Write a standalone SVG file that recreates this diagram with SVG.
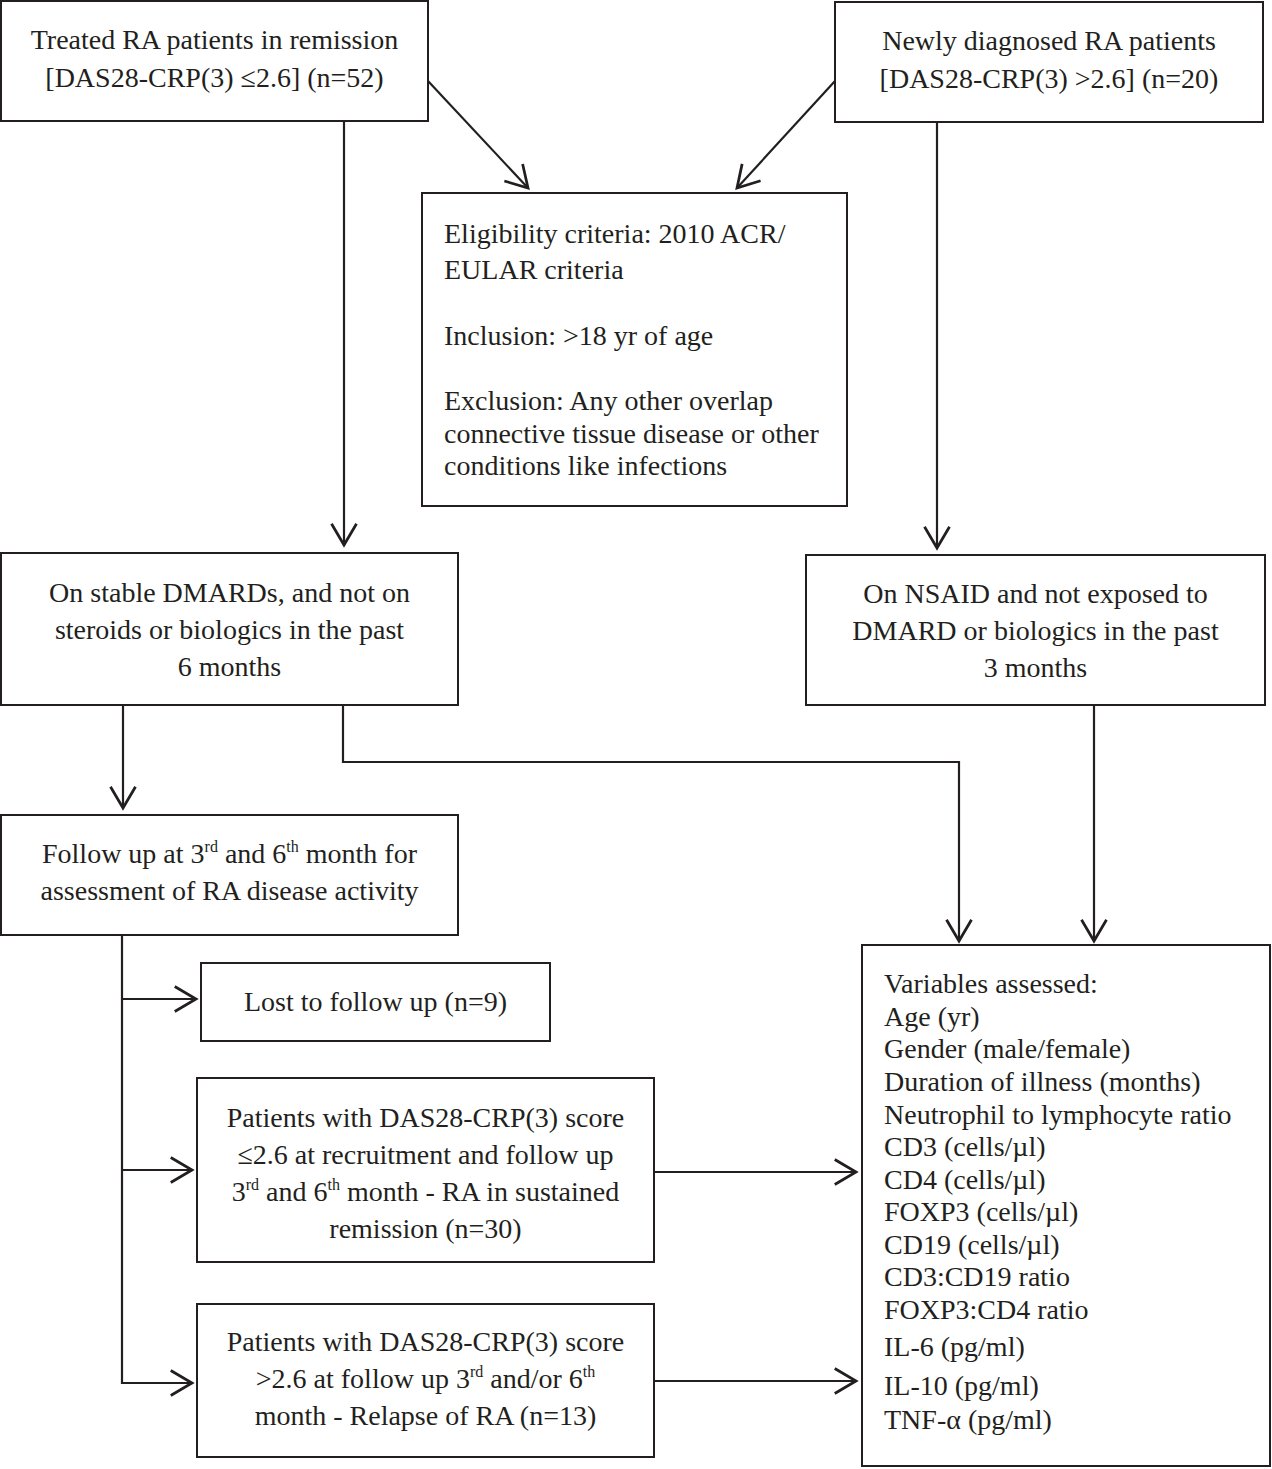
<svg xmlns="http://www.w3.org/2000/svg" width="1272" height="1469" viewBox="0 0 1272 1469">
<style>
.box{fill:#fff;stroke:#231f20;stroke-width:2}
.t{font-family:"Liberation Serif","Times New Roman",serif;font-size:28px;fill:#231f20}
.c{text-anchor:middle}
.ln{fill:none;stroke:#231f20;stroke-width:2.2}
.sup{font-size:16px}
</style>
<defs>
<marker id="ah" markerUnits="userSpaceOnUse" markerWidth="30" markerHeight="30" viewBox="-20 -12 22 24" refX="0" refY="0" orient="auto">
<path d="M-17,-10 L0,0 L-17,10" fill="none" stroke="#231f20" stroke-width="2.2"/>
</marker>
</defs>
<rect width="1272" height="1469" fill="#fff"/>
<g id="connectors">
<line class="ln" x1="428" y1="81" x2="528" y2="188" marker-end="url(#ah)"/>
<line class="ln" x1="835" y1="81" x2="737" y2="188" marker-end="url(#ah)"/>
<line class="ln" x1="344" y1="121" x2="344" y2="545" marker-end="url(#ah)"/>
<line class="ln" x1="937" y1="122" x2="937" y2="548" marker-end="url(#ah)"/>
<line class="ln" x1="123" y1="705" x2="123" y2="808" marker-end="url(#ah)"/>
<polyline class="ln" points="343,705 343,762 959,762 959,941" marker-end="url(#ah)"/>
<line class="ln" x1="1094" y1="706" x2="1094" y2="941" marker-end="url(#ah)"/>
<polyline class="ln" points="122,935 122,1383 192,1383" marker-end="url(#ah)"/>
<line class="ln" x1="122" y1="999" x2="196" y2="999" marker-end="url(#ah)"/>
<line class="ln" x1="122" y1="1170" x2="192" y2="1170" marker-end="url(#ah)"/>
<line class="ln" x1="654" y1="1172" x2="856" y2="1172" marker-end="url(#ah)"/>
<line class="ln" x1="654" y1="1381" x2="856" y2="1381" marker-end="url(#ah)"/>
</g>
<g id="treated">
<rect class="box" x="1" y="1" width="427" height="120"/>
<text class="t c" x="214.5" y="49">Treated RA patients in remission</text>
<text class="t c" x="214.5" y="87">[DAS28-CRP(3) ≤2.6] (n=52)</text>
</g>
<g id="newly">
<rect class="box" x="835" y="2" width="428" height="120"/>
<text class="t c" x="1049" y="50">Newly diagnosed RA patients</text>
<text class="t c" x="1049" y="88">[DAS28-CRP(3) &gt;2.6] (n=20)</text>
</g>
<g id="eligibility">
<rect class="box" x="422" y="193" width="425" height="313"/>
<text class="t" x="444" y="243">Eligibility criteria: 2010 ACR/</text>
<text class="t" x="444" y="279">EULAR criteria</text>
<text class="t" x="444" y="345">Inclusion: &gt;18 yr of age</text>
<text class="t" x="444" y="410">Exclusion: Any other overlap</text>
<text class="t" x="444" y="443">connective tissue disease or other</text>
<text class="t" x="444" y="475">conditions like infections</text>
</g>
<g id="stable">
<rect class="box" x="1" y="553" width="457" height="152"/>
<text class="t c" x="229.5" y="602">On stable DMARDs, and not on</text>
<text class="t c" x="229.5" y="639">steroids or biologics in the past</text>
<text class="t c" x="229.5" y="676">6 months</text>
</g>
<g id="nsaid">
<rect class="box" x="806" y="555" width="459" height="150"/>
<text class="t c" x="1035.5" y="603">On NSAID and not exposed to</text>
<text class="t c" x="1035.5" y="640">DMARD or biologics in the past</text>
<text class="t c" x="1035.5" y="677">3 months</text>
</g>
<g id="followup">
<rect class="box" x="1" y="815" width="457" height="120"/>
<text class="t c" x="229.5" y="863">Follow up at 3<tspan class="sup" dy="-11">rd</tspan><tspan dy="11"> and 6</tspan><tspan class="sup" dy="-11">th</tspan><tspan dy="11"> month for</tspan></text>
<text class="t c" x="229.5" y="900">assessment of RA disease activity</text>
</g>
<g id="lost">
<rect class="box" x="201" y="963" width="349" height="78"/>
<text class="t c" x="375.5" y="1011">Lost to follow up (n=9)</text>
</g>
<g id="sustained">
<rect class="box" x="197" y="1078" width="457" height="184"/>
<text class="t c" x="425.5" y="1127">Patients with DAS28-CRP(3) score</text>
<text class="t c" x="425.5" y="1164">≤2.6 at recruitment and follow up</text>
<text class="t c" x="425.5" y="1201">3<tspan class="sup" dy="-11">rd</tspan><tspan dy="11"> and 6</tspan><tspan class="sup" dy="-11">th</tspan><tspan dy="11"> month - RA in sustained</tspan></text>
<text class="t c" x="425.5" y="1238">remission (n=30)</text>
</g>
<g id="relapse">
<rect class="box" x="197" y="1304" width="457" height="153"/>
<text class="t c" x="425.5" y="1351">Patients with DAS28-CRP(3) score</text>
<text class="t c" x="425.5" y="1388">&gt;2.6 at follow up 3<tspan class="sup" dy="-11">rd</tspan><tspan dy="11"> and/or 6</tspan><tspan class="sup" dy="-11">th</tspan></text>
<text class="t c" x="425.5" y="1425">month - Relapse of RA (n=13)</text>
</g>
<g id="variables">
<rect class="box" x="862" y="945" width="408" height="521"/>
<text class="t" x="884" y="993">Variables assessed:</text>
<text class="t" x="884" y="1026">Age (yr)</text>
<text class="t" x="884" y="1058">Gender (male/female)</text>
<text class="t" x="884" y="1091">Duration of illness (months)</text>
<text class="t" x="884" y="1124">Neutrophil to lymphocyte ratio</text>
<text class="t" x="884" y="1156">CD3 (cells/µl)</text>
<text class="t" x="884" y="1189">CD4 (cells/µl)</text>
<text class="t" x="884" y="1221">FOXP3 (cells/µl)</text>
<text class="t" x="884" y="1254">CD19 (cells/µl)</text>
<text class="t" x="884" y="1286">CD3:CD19 ratio</text>
<text class="t" x="884" y="1319">FOXP3:CD4 ratio</text>
<text class="t" x="884" y="1356">IL-6 (pg/ml)</text>
<text class="t" x="884" y="1395">IL-10 (pg/ml)</text>
<text class="t" x="884" y="1429">TNF-α (pg/ml)</text>
</g>
</svg>
